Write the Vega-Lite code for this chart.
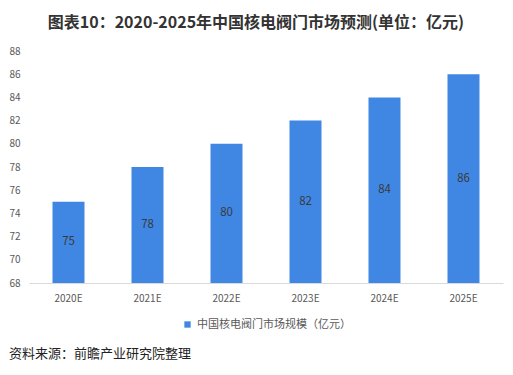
{
  "$schema": "https://vega.github.io/schema/vega-lite/v6.json",
  "background": "white",
  "padding": {"left": 8, "top": 15, "right": 9, "bottom": 10},
  "title": {
    "text": "资料来源：前瞻产业研究院整理",
    "orient": "bottom",
    "anchor": "start",
    "frame": "bounds",
    "font": "Noto Sans CJK SC",
    "fontSize": 13,
    "fontWeight": "normal",
    "color": "#222222",
    "offset": 18
  },
  "config": {
    "view": {"stroke": null},
    "font": "Noto Sans CJK SC",
    "legend": {"layout": {"bottom": {"anchor": "middle"}}}
  },
  "vconcat": [
    {
      "width": 474,
      "height": 232,
      "title": {
        "text": "图表10：2020-2025年中国核电阀门市场预测(单位：亿元)",
        "font": "Noto Sans CJK SC",
        "fontSize": 16,
        "fontWeight": "bold",
        "color": "#333333",
        "anchor": "middle",
        "frame": "bounds",
        "offset": 15
      },
      "data": {
        "values": [
          {"year": "2020E", "value": 75, "series": "中国核电阀门市场规模（亿元）"},
          {"year": "2021E", "value": 78, "series": "中国核电阀门市场规模（亿元）"},
          {"year": "2022E", "value": 80, "series": "中国核电阀门市场规模（亿元）"},
          {"year": "2023E", "value": 82, "series": "中国核电阀门市场规模（亿元）"},
          {"year": "2024E", "value": 84, "series": "中国核电阀门市场规模（亿元）"},
          {"year": "2025E", "value": 86, "series": "中国核电阀门市场规模（亿元）"}
        ]
      },
      "encoding": {
        "x": {
          "field": "year",
          "type": "ordinal",
          "sort": null,
          "scale": {"paddingInner": 0.595, "paddingOuter": 0.2975},
          "axis": {
            "title": null,
            "labelAngle": 0,
            "ticks": false,
            "labelPadding": 10,
            "labelFontSize": 10,
            "labelColor": "#595959",
            "domainColor": "#d9d9d9",
            "domainWidth": 1
          }
        }
      },
      "layer": [
        {
          "mark": {"type": "bar", "color": "#4087E3"},
          "encoding": {
            "y": {
              "field": "value",
              "type": "quantitative",
              "scale": {"domain": [68, 88], "zero": false, "nice": false},
              "axis": {
                "title": null,
                "values": [68, 70, 72, 74, 76, 78, 80, 82, 84, 86, 88],
                "labelOverlap": false,
                "grid": false,
                "domain": false,
                "ticks": false,
                "labelPadding": 9,
                "labelFontSize": 10,
                "labelColor": "#595959"
              }
            },
            "y2": {"datum": 68},
            "color": {
              "field": "series",
              "type": "nominal",
              "scale": {"range": ["#4087E3"]},
              "legend": {
                "title": null,
                "orient": "bottom",
                "symbolType": "square",
                "symbolSize": 40,
                "labelFontSize": 11,
                "labelColor": "#595959",
                "offset": 16
              }
            }
          }
        },
        {
          "transform": [{"calculate": "(datum.value + 68) / 2", "as": "mid"}],
          "mark": {"type": "text", "fontSize": 11.5, "color": "#3a3a3a"},
          "encoding": {
            "y": {
              "field": "mid",
              "type": "quantitative",
              "axis": {
                "title": null,
                "values": [68, 70, 72, 74, 76, 78, 80, 82, 84, 86, 88],
                "labelOverlap": false,
                "grid": false,
                "domain": false,
                "ticks": false,
                "labelPadding": 9,
                "labelFontSize": 10,
                "labelColor": "#595959"
              }
            },
            "text": {"field": "value", "type": "quantitative"}
          }
        }
      ]
    }
  ]
}
